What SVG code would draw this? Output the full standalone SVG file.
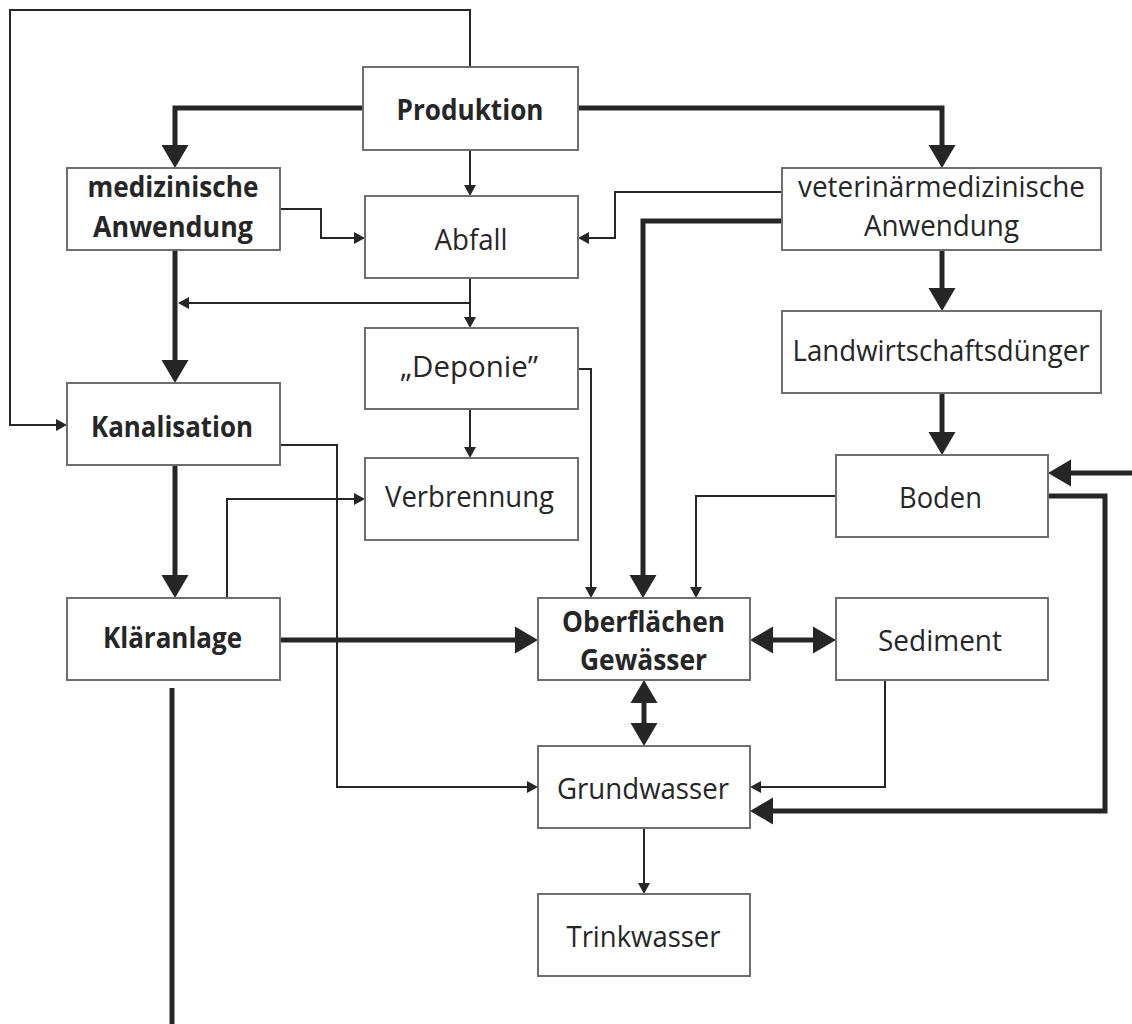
<svg xmlns="http://www.w3.org/2000/svg" width="1132" height="1024" viewBox="0 0 1132 1024">
<style>
.box{fill:#fff;stroke:#6e6e6e;stroke-width:2}
.lbl{font-family:"Open Sans","Noto Sans","Liberation Sans",sans-serif;font-size:29px;fill:#262626;text-anchor:middle}
.b{font-weight:bold}
.t{fill:none;stroke:#262626;stroke-width:2}
.k{fill:none;stroke:#262626;stroke-width:5}
</style>
<defs>
<marker id="s" markerUnits="userSpaceOnUse" markerWidth="12" markerHeight="12" refX="8" refY="6" orient="auto-start-reverse" overflow="visible">
<path d="M0,0 L11,6 L0,12 z" fill="#262626"/>
</marker>
<marker id="bg" markerUnits="userSpaceOnUse" markerWidth="24" markerHeight="27" refX="17" refY="13.5" orient="auto-start-reverse" overflow="visible">
<path d="M0,0 L23,13.5 L0,27 z" fill="#262626"/>
</marker>
</defs>
<g id="connectors">
<path class="t" d="M470,67 V10 H10 V425 H64" marker-end="url(#s)"/>
<path class="k" d="M363,108 H175 V162" marker-end="url(#bg)"/>
<path class="k" d="M578,108 H942 V162" marker-end="url(#bg)"/>
<path class="t" d="M470,150 V193" marker-end="url(#s)"/>
<path class="t" d="M280,209 H321 V238 H362" marker-end="url(#s)"/>
<path class="t" d="M782,192 H615 V238 H581" marker-end="url(#s)"/>
<path class="k" d="M782,221 H643 V592" marker-end="url(#bg)"/>
<path class="k" d="M942,250 V305" marker-end="url(#bg)"/>
<path class="k" d="M942,393 V449" marker-end="url(#bg)"/>
<path class="k" d="M1132,473 H1054" marker-end="url(#bg)"/>
<path class="k" d="M1048,496 H1105 V811 H756" marker-end="url(#bg)"/>
<path class="t" d="M836,496 H696 V595" marker-end="url(#s)"/>
<path class="t" d="M470,278 V325" marker-end="url(#s)"/>
<path class="t" d="M470,303 H181" marker-end="url(#s)"/>
<path class="k" d="M175,250 V377" marker-end="url(#bg)"/>
<path class="k" d="M175,465 V592" marker-end="url(#bg)"/>
<path class="t" d="M280,445 H337 V787 H535" marker-end="url(#s)"/>
<path class="t" d="M227,598 V499 H362" marker-end="url(#s)"/>
<path class="t" d="M470,409 V455" marker-end="url(#s)"/>
<path class="t" d="M578,369 H591 V595" marker-end="url(#s)"/>
<path class="k" d="M280,640 H532" marker-end="url(#bg)"/>
<path class="k" d="M756,640 H830" marker-start="url(#bg)" marker-end="url(#bg)"/>
<path class="k" d="M644,686 V740" marker-start="url(#bg)" marker-end="url(#bg)"/>
<path class="t" d="M885,680 V787 H753" marker-end="url(#s)"/>
<path class="t" d="M644,828 V891" marker-end="url(#s)"/>
<path class="k" d="M172,688 V1024"/>
</g>
<g id="produktion"><rect class="box" x="363" y="67" width="215" height="83"/><text class="lbl b" x="470" y="120" textLength="147" lengthAdjust="spacingAndGlyphs">Produktion</text></g>
<g id="medizinische"><rect class="box" x="67" y="168" width="213" height="82"/><text class="lbl b" x="173" y="197" textLength="171" lengthAdjust="spacingAndGlyphs">medizinische</text><text class="lbl b" x="173" y="237" textLength="160" lengthAdjust="spacingAndGlyphs">Anwendung</text></g>
<g id="abfall"><rect class="box" x="365" y="196" width="213" height="82"/><text class="lbl" x="471" y="250" textLength="73" lengthAdjust="spacingAndGlyphs">Abfall</text></g>
<g id="veterinaer"><rect class="box" x="782" y="168" width="319" height="82"/><text class="lbl" x="941.5" y="197" textLength="287" lengthAdjust="spacingAndGlyphs">veterinärmedizinische</text><text class="lbl" x="941.5" y="236" textLength="155" lengthAdjust="spacingAndGlyphs">Anwendung</text></g>
<g id="landwirtschaft"><rect class="box" x="782" y="311" width="319" height="82"/><text class="lbl" x="941" y="361" textLength="297" lengthAdjust="spacingAndGlyphs">Landwirtschaftsdünger</text></g>
<g id="deponie"><rect class="box" x="365" y="328" width="213" height="81"/><text class="lbl" x="469" y="377" textLength="138" lengthAdjust="spacingAndGlyphs">„Deponie”</text></g>
<g id="kanalisation"><rect class="box" x="67" y="383" width="213" height="82"/><text class="lbl b" x="172" y="437" textLength="162" lengthAdjust="spacingAndGlyphs">Kanalisation</text></g>
<g id="verbrennung"><rect class="box" x="365" y="458" width="213" height="82"/><text class="lbl" x="469.5" y="507" textLength="169" lengthAdjust="spacingAndGlyphs">Verbrennung</text></g>
<g id="boden"><rect class="box" x="836" y="455" width="212" height="82"/><text class="lbl" x="940.5" y="508" textLength="83" lengthAdjust="spacingAndGlyphs">Boden</text></g>
<g id="klaeranlage"><rect class="box" x="67" y="598" width="213" height="82"/><text class="lbl b" x="172.5" y="648" textLength="139" lengthAdjust="spacingAndGlyphs">Kläranlage</text></g>
<g id="oberflaechen"><rect class="box" x="538" y="598" width="212" height="82"/><text class="lbl b" x="643.5" y="632" textLength="163" lengthAdjust="spacingAndGlyphs">Oberflächen</text><text class="lbl b" x="643.5" y="670" textLength="127" lengthAdjust="spacingAndGlyphs">Gewässer</text></g>
<g id="sediment"><rect class="box" x="836" y="598" width="212" height="82"/><text class="lbl" x="940" y="651" textLength="124" lengthAdjust="spacingAndGlyphs">Sediment</text></g>
<g id="grundwasser"><rect class="box" x="538" y="746" width="212" height="82"/><text class="lbl" x="643" y="799" textLength="172" lengthAdjust="spacingAndGlyphs">Grundwasser</text></g>
<g id="trinkwasser"><rect class="box" x="538" y="894" width="212" height="82"/><text class="lbl" x="643.5" y="947" textLength="154" lengthAdjust="spacingAndGlyphs">Trinkwasser</text></g>
</svg>
